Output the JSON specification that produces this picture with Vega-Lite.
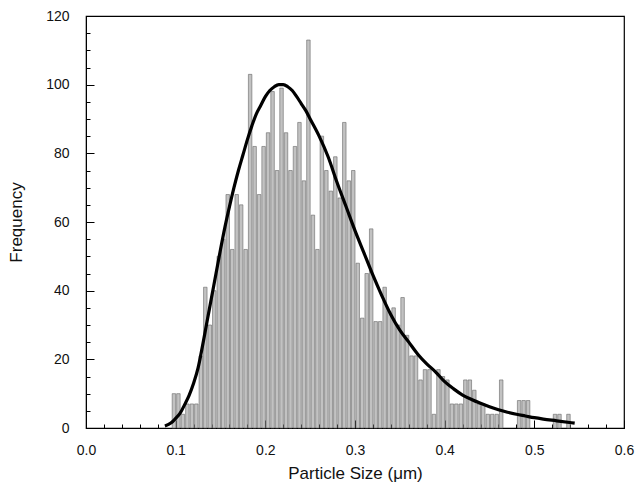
{
  "$schema": "https://vega.github.io/schema/vega-lite/v6.json",
  "width": 538,
  "height": 412,
  "autosize": {"type": "none"},
  "padding": {"left": 86, "top": 16, "right": 12, "bottom": 61},
  "background": "white",
  "config": {
    "view": {"stroke": "black", "strokeWidth": 1.2},
    "axis": {
      "labelFont": "Liberation Sans",
      "titleFont": "Liberation Sans",
      "labelFontSize": 14,
      "titleFontSize": 17,
      "titleFontWeight": "normal",
      "labelColor": "#111",
      "titleColor": "#111",
      "grid": false,
      "domainColor": "black",
      "tickColor": "black",
      "labelFlush": false
    }
  },
  "datasets": {
    "bins": [
      {"start": 0.095, "end": 0.100, "count": 10},
      {"start": 0.100, "end": 0.105, "count": 10},
      {"start": 0.105, "end": 0.110, "count": 4},
      {"start": 0.110, "end": 0.115, "count": 7},
      {"start": 0.115, "end": 0.120, "count": 7},
      {"start": 0.120, "end": 0.125, "count": 7},
      {"start": 0.125, "end": 0.130, "count": 21},
      {"start": 0.130, "end": 0.135, "count": 41},
      {"start": 0.135, "end": 0.140, "count": 30},
      {"start": 0.140, "end": 0.145, "count": 40},
      {"start": 0.145, "end": 0.150, "count": 50},
      {"start": 0.150, "end": 0.155, "count": 55},
      {"start": 0.155, "end": 0.160, "count": 68},
      {"start": 0.160, "end": 0.165, "count": 52},
      {"start": 0.165, "end": 0.170, "count": 68},
      {"start": 0.170, "end": 0.175, "count": 65},
      {"start": 0.175, "end": 0.180, "count": 52},
      {"start": 0.180, "end": 0.185, "count": 103},
      {"start": 0.185, "end": 0.190, "count": 82},
      {"start": 0.190, "end": 0.195, "count": 68},
      {"start": 0.195, "end": 0.200, "count": 82},
      {"start": 0.200, "end": 0.205, "count": 86},
      {"start": 0.205, "end": 0.210, "count": 98},
      {"start": 0.210, "end": 0.215, "count": 75},
      {"start": 0.215, "end": 0.220, "count": 99},
      {"start": 0.220, "end": 0.225, "count": 86},
      {"start": 0.225, "end": 0.230, "count": 75},
      {"start": 0.230, "end": 0.235, "count": 82},
      {"start": 0.235, "end": 0.240, "count": 89},
      {"start": 0.240, "end": 0.245, "count": 72},
      {"start": 0.245, "end": 0.250, "count": 113},
      {"start": 0.250, "end": 0.255, "count": 62},
      {"start": 0.255, "end": 0.260, "count": 52},
      {"start": 0.260, "end": 0.265, "count": 85},
      {"start": 0.265, "end": 0.270, "count": 75},
      {"start": 0.270, "end": 0.275, "count": 69},
      {"start": 0.275, "end": 0.280, "count": 79},
      {"start": 0.280, "end": 0.285, "count": 67},
      {"start": 0.285, "end": 0.290, "count": 89},
      {"start": 0.290, "end": 0.295, "count": 72},
      {"start": 0.295, "end": 0.300, "count": 75},
      {"start": 0.300, "end": 0.305, "count": 48},
      {"start": 0.305, "end": 0.310, "count": 32},
      {"start": 0.310, "end": 0.315, "count": 45},
      {"start": 0.315, "end": 0.320, "count": 58},
      {"start": 0.320, "end": 0.325, "count": 31},
      {"start": 0.325, "end": 0.330, "count": 31},
      {"start": 0.330, "end": 0.335, "count": 41},
      {"start": 0.335, "end": 0.340, "count": 34},
      {"start": 0.340, "end": 0.345, "count": 35},
      {"start": 0.345, "end": 0.350, "count": 30},
      {"start": 0.350, "end": 0.355, "count": 38},
      {"start": 0.355, "end": 0.360, "count": 27},
      {"start": 0.360, "end": 0.365, "count": 21},
      {"start": 0.365, "end": 0.370, "count": 21},
      {"start": 0.370, "end": 0.375, "count": 14},
      {"start": 0.375, "end": 0.380, "count": 17},
      {"start": 0.380, "end": 0.385, "count": 17},
      {"start": 0.385, "end": 0.390, "count": 4},
      {"start": 0.390, "end": 0.395, "count": 17},
      {"start": 0.395, "end": 0.400, "count": 15},
      {"start": 0.400, "end": 0.405, "count": 14},
      {"start": 0.405, "end": 0.410, "count": 7},
      {"start": 0.410, "end": 0.415, "count": 7},
      {"start": 0.415, "end": 0.420, "count": 7},
      {"start": 0.420, "end": 0.425, "count": 14},
      {"start": 0.425, "end": 0.430, "count": 14},
      {"start": 0.430, "end": 0.435, "count": 11},
      {"start": 0.435, "end": 0.440, "count": 7},
      {"start": 0.440, "end": 0.445, "count": 7},
      {"start": 0.445, "end": 0.450, "count": 4},
      {"start": 0.450, "end": 0.455, "count": 4},
      {"start": 0.455, "end": 0.460, "count": 4},
      {"start": 0.460, "end": 0.465, "count": 14},
      {"start": 0.480, "end": 0.485, "count": 8},
      {"start": 0.485, "end": 0.490, "count": 8},
      {"start": 0.490, "end": 0.495, "count": 8},
      {"start": 0.520, "end": 0.525, "count": 4},
      {"start": 0.525, "end": 0.530, "count": 4},
      {"start": 0.535, "end": 0.540, "count": 4}
    ],
    "fit": [
      {"size": 0.088, "freq": 0.6},
      {"size": 0.095, "freq": 1.5},
      {"size": 0.100, "freq": 2.8},
      {"size": 0.105, "freq": 4.3},
      {"size": 0.110, "freq": 6.8},
      {"size": 0.115, "freq": 9.5},
      {"size": 0.120, "freq": 13},
      {"size": 0.125, "freq": 17.5},
      {"size": 0.130, "freq": 24},
      {"size": 0.135, "freq": 31},
      {"size": 0.140, "freq": 38},
      {"size": 0.145, "freq": 45},
      {"size": 0.150, "freq": 52},
      {"size": 0.155, "freq": 58.6},
      {"size": 0.160, "freq": 64.5},
      {"size": 0.165, "freq": 70},
      {"size": 0.170, "freq": 75},
      {"size": 0.175, "freq": 79.5},
      {"size": 0.180, "freq": 84},
      {"size": 0.185, "freq": 88},
      {"size": 0.190, "freq": 91.5},
      {"size": 0.195, "freq": 94},
      {"size": 0.200, "freq": 96.5},
      {"size": 0.205, "freq": 98.3},
      {"size": 0.210, "freq": 99.4},
      {"size": 0.215, "freq": 100},
      {"size": 0.220, "freq": 100},
      {"size": 0.225, "freq": 99.4},
      {"size": 0.230, "freq": 98.3},
      {"size": 0.235, "freq": 96.5},
      {"size": 0.240, "freq": 94.5},
      {"size": 0.245, "freq": 92.5},
      {"size": 0.250, "freq": 90},
      {"size": 0.260, "freq": 85},
      {"size": 0.270, "freq": 79},
      {"size": 0.280, "freq": 71.5},
      {"size": 0.290, "freq": 64.5},
      {"size": 0.300, "freq": 57.5},
      {"size": 0.310, "freq": 51},
      {"size": 0.320, "freq": 44.5},
      {"size": 0.330, "freq": 38.5},
      {"size": 0.340, "freq": 33},
      {"size": 0.350, "freq": 28.5},
      {"size": 0.360, "freq": 25},
      {"size": 0.370, "freq": 21.5},
      {"size": 0.380, "freq": 18.7},
      {"size": 0.390, "freq": 16.3},
      {"size": 0.400, "freq": 13.5},
      {"size": 0.410, "freq": 11.4},
      {"size": 0.420, "freq": 9.6},
      {"size": 0.430, "freq": 8.3},
      {"size": 0.440, "freq": 7.2},
      {"size": 0.450, "freq": 6.2},
      {"size": 0.460, "freq": 5.3},
      {"size": 0.470, "freq": 4.6},
      {"size": 0.480, "freq": 4},
      {"size": 0.490, "freq": 3.5},
      {"size": 0.500, "freq": 3},
      {"size": 0.510, "freq": 2.6},
      {"size": 0.525, "freq": 2.1},
      {"size": 0.545, "freq": 1.4}
    ]
  },
  "layer": [
    {
      "data": {"name": "bins"},
      "mark": {"type": "bar", "fill": "#c2c2c2", "stroke": "#666666", "strokeWidth": 0.6},
      "encoding": {
        "x": {
          "field": "start",
          "type": "quantitative",
          "bin": {"binned": true, "step": 0.005},
          "scale": {"domain": [0, 0.6], "nice": false, "zero": false},
          "axis": {
            "values": [0, 0.1, 0.2, 0.3, 0.4, 0.5, 0.6],
            "format": ".1f",
            "tickSize": -8,
            "labelPadding": 23,
            "title": "Particle Size (μm)",
            "titlePadding": 8,
            "orient": "bottom"
          }
        },
        "x2": {"field": "end"},
        "y": {
          "field": "count",
          "type": "quantitative",
          "scale": {"domain": [0, 120], "nice": false},
          "axis": {
            "values": [0, 20, 40, 60, 80, 100, 120],
            "tickSize": -8,
            "labelPadding": 25,
            "title": "Frequency",
            "titlePadding": 20,
            "orient": "left"
          }
        }
      }
    },
    {
      "data": {"name": "fit"},
      "mark": {"type": "line", "color": "black", "strokeWidth": 3.2, "interpolate": "monotone"},
      "encoding": {
        "x": {
          "field": "size",
          "type": "quantitative",
          "scale": {"domain": [0, 0.6], "nice": false, "zero": false},
          "axis": {
            "values": [0.02, 0.04, 0.06, 0.08, 0.12, 0.14, 0.16, 0.18, 0.22, 0.24, 0.26, 0.28, 0.32, 0.34, 0.36, 0.38, 0.42, 0.44, 0.46, 0.48, 0.52, 0.54, 0.56, 0.58],
            "labels": false,
            "domain": false,
            "tickSize": -4,
            "title": null,
            "orient": "bottom"
          }
        },
        "y": {
          "field": "freq",
          "type": "quantitative",
          "scale": {"domain": [0, 120], "nice": false},
          "axis": {
            "values": [5, 10, 15, 25, 30, 35, 45, 50, 55, 65, 70, 75, 85, 90, 95, 105, 110, 115],
            "labels": false,
            "domain": false,
            "tickSize": -4,
            "title": null,
            "orient": "left"
          }
        }
      }
    }
  ],
  "resolve": {"axis": {"x": "independent", "y": "independent"}}
}
